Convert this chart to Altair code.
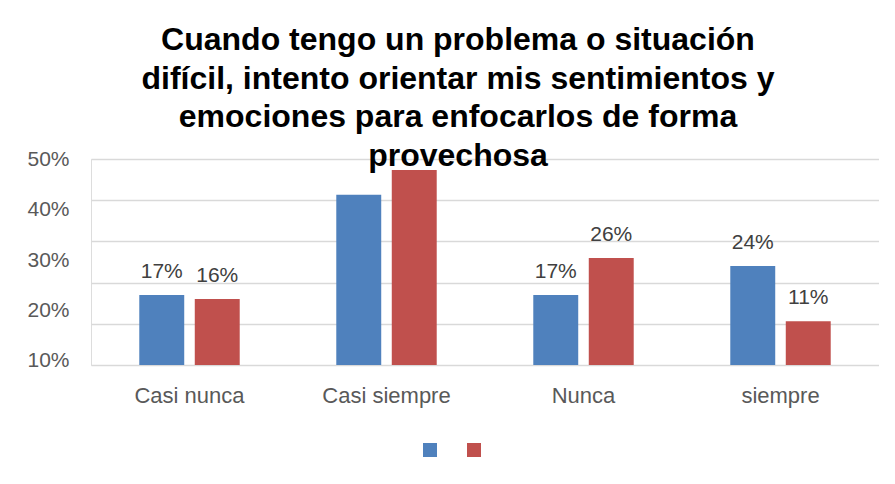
import altair as alt
import pandas as pd

categorias = ["Casi nunca", "Casi siempre", "Nunca", "siempre"]
series = ["Serie 1", "Serie 2"]
serie1 = [0.17, 0.413, 0.17, 0.24]
serie2 = [0.16, 0.473, 0.26, 0.106]
etiquetas1 = ["17%", "", "17%", "24%"]
etiquetas2 = ["16%", "", "26%", "11%"]
marcas_eje = [0.1, 0.2, 0.3, 0.4, 0.5]
colores = ["#4F81BD", "#C0504D"]

titulo = [
    "Cuando tengo un problema o situación",
    "difícil, intento orientar mis sentimientos y",
    "emociones para enfocarlos de forma",
    "provechosa",
]

rows = []
for i, c in enumerate(categorias):
    rows.append({"cat": c, "serie": series[0], "valor": serie1[i], "etq": etiquetas1[i]})
    rows.append({"cat": c, "serie": series[1], "valor": serie2[i], "etq": etiquetas2[i]})
df = pd.DataFrame(rows)

FONT = "Liberation Sans"
GRAY = "#595959"

x_enc = alt.X(
    "cat:N",
    sort=categorias,
    scale=alt.Scale(paddingInner=0, paddingOuter=0),
    axis=alt.Axis(
        title=None, labelFont=FONT, labelFontSize=22, labelColor=GRAY,
        labelPadding=20, ticks=False, domain=False, labelAngle=0,
    ),
)
xo_enc = alt.XOffset(
    "serie:N", sort=series,
    scale=alt.Scale(paddingInner=0.19, paddingOuter=0.87),
)

base = alt.Chart(df)

bars = base.mark_bar().encode(
    x=x_enc,
    xOffset=xo_enc,
    y=alt.Y(
        "valor:Q",
        scale=alt.Scale(domain=[0, 0.5], nice=False, zero=True),
        axis=alt.Axis(
            orient="right", title=None, labels=False, ticks=False, domain=False,
            grid=True, gridColor="#D9D9D9", gridWidth=1.5, values=[0, 0.1, 0.2, 0.3, 0.4, 0.5],
        ),
    ),
    color=alt.Color(
        "serie:N", sort=series,
        scale=alt.Scale(domain=series, range=colores),
        legend=alt.Legend(
            title=None, orient="none", legendX=332, legendY=284, direction="horizontal",
            symbolType="square", symbolSize=196, symbolStrokeWidth=0, symbolOpacity=1,
            labelExpr="''", labelOffset=0, columnPadding=30, padding=0,
        ),
    ),
)

texts = base.mark_text(
    font=FONT, fontSize=21, color="#404040", baseline="alphabetic", dy=-17
).encode(
    x=alt.X("cat:N", sort=categorias),
    xOffset=xo_enc,
    y=alt.Y("valor:Q", scale=alt.Scale(domain=[0, 0.5], nice=False, zero=True), axis=None),
    text="etq:N",
)

ghost = base.mark_point(opacity=0).encode(
    y=alt.Y(
        "valor:Q",
        scale=alt.Scale(domain=[0.092, 0.501], nice=False, zero=False),
        axis=alt.Axis(
            orient="left", title=None, values=marcas_eje, format=".0%",
            labelFont=FONT, labelFontSize=21, labelColor=GRAY, labelPadding=22,
            ticks=False, domain=False, grid=False,
        ),
    ),
)

chart = (
    alt.layer(bars, texts, ghost)
    .resolve_scale(y="independent")
    .properties(
        width=788,
        height=206,
        padding={"left": 18, "top": 16, "right": 0, "bottom": 0},
        title=alt.TitleParams(
            text=titulo, font=FONT, fontSize=32, fontWeight="bold", color="#000000",
            lineHeight=38.7, anchor="middle", dx=-27, offset=-37,
        ),
    )
    .configure_view(stroke=None)
    .configure(background="white")
)

chart.save("out.html", embed_options={"renderer": "svg", "actions": False})
